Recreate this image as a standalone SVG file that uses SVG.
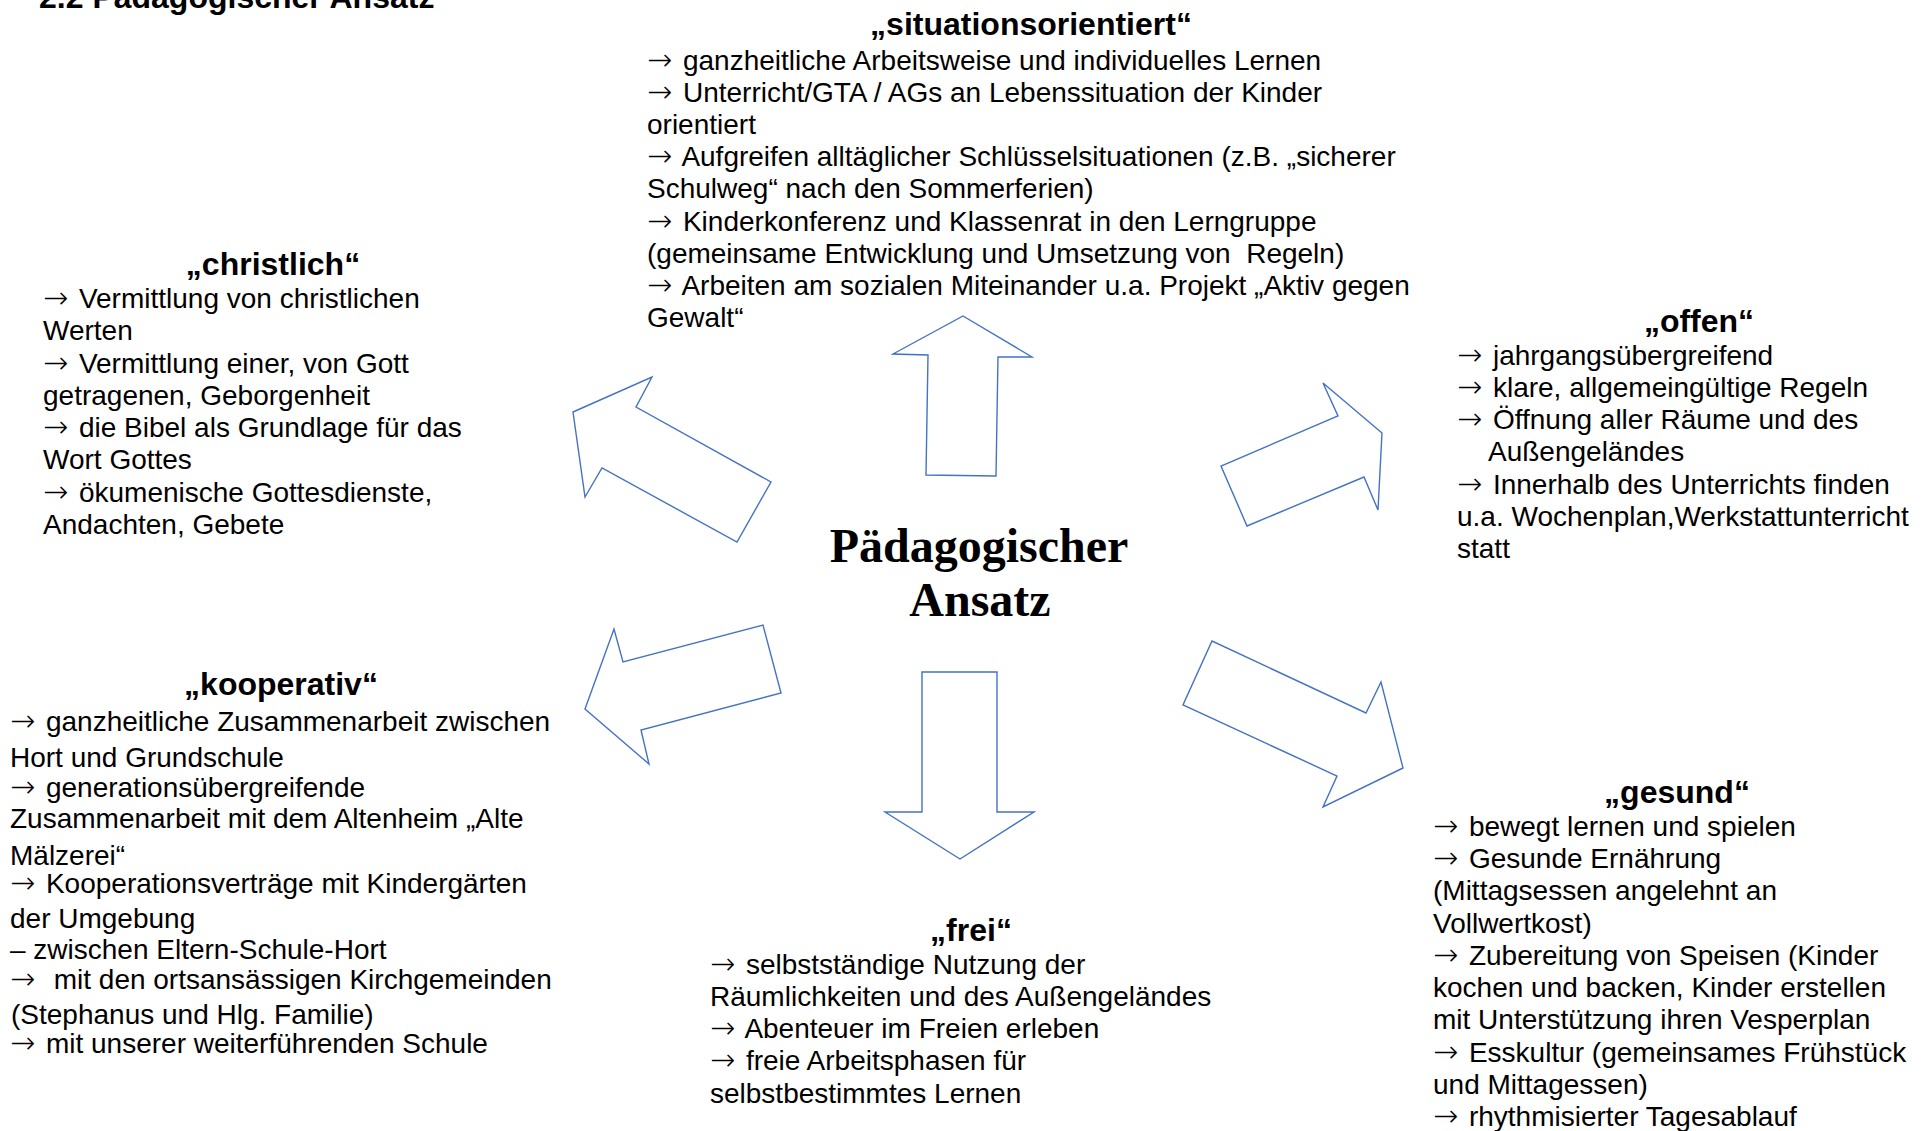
<svg xmlns="http://www.w3.org/2000/svg" width="1929" height="1131" viewBox="0 0 1929 1131">
<style>
.t{font-family:"Liberation Sans",Arial,sans-serif;font-size:28px;fill:#000;white-space:pre}
.ar{font-family:"DejaVu Sans ExtraLight","DejaVu Sans",sans-serif;font-weight:200;font-size:30px}
.h{font-family:"Liberation Sans",Arial,sans-serif;font-size:32px;font-weight:bold;fill:#000;text-anchor:middle}
.c{font-family:"Liberation Serif","Times New Roman",serif;font-size:48px;font-weight:bold;fill:#000;text-anchor:middle}
.a{fill:#fff;stroke:#4472c4;stroke-width:1.4;stroke-linejoin:miter}
</style>
<rect width="1929" height="1131" fill="#fff"/>
<text x="39" y="8" font-family="Liberation Sans, Arial, sans-serif" font-size="32" font-weight="bold">2.2 Pädagogischer Ansatz</text>

<g id="connectors">
<polygon class="a" points="573,412 652,377 636,407 771,482 737,542 602,468 585,497"/>
<polygon class="a" points="963,316 1032,357 998,357 996,476 926,475 928,355 893,354"/>
<polygon class="a" points="1382,433 1378,510 1364,477 1247,526 1221,466 1338,416 1323,383"/>
<polygon class="a" points="585,709 614,629 623,662 763,625 781,693 641,730 649,764"/>
<polygon class="a" points="922,672 997,672 997,812 1034,812 960,859 885,812 922,812"/>
<polygon class="a" points="1403,768 1323,807 1337,776 1183,705 1212,641 1366,713 1381,682"/>
</g>

<g id="center">
<text class="c" x="979" y="562">Pädagogischer</text>
<text class="c" x="980" y="616">Ansatz</text>
</g>

<g id="situationsorientiert">
<text class="h" x="1031" y="35">„situationsorientiert“</text>
<text class="t" x="647" y="70"><tspan class="ar">→</tspan><tspan dx="3"> ganzheitliche Arbeitsweise und individuelles Lernen</tspan></text>
<text class="t" x="647" y="102"><tspan class="ar">→</tspan><tspan dx="3"> Unterricht/GTA / AGs an Lebenssituation der Kinder</tspan></text>
<text class="t" x="647" y="134">orientiert</text>
<text class="t" x="647" y="166"><tspan class="ar">→</tspan><tspan dx="3"> Aufgreifen alltäglicher Schlüsselsituationen (z.B. „sicherer</tspan></text>
<text class="t" x="647" y="198">Schulweg“ nach den Sommerferien)</text>
<text class="t" x="647" y="231"><tspan class="ar">→</tspan><tspan dx="3"> Kinderkonferenz und Klassenrat in den Lerngruppe</tspan></text>
<text class="t" x="647" y="263">(gemeinsame Entwicklung und Umsetzung von  Regeln)</text>
<text class="t" x="647" y="295"><tspan class="ar">→</tspan><tspan dx="3"> Arbeiten am sozialen Miteinander u.a. Projekt „Aktiv gegen</tspan></text>
<text class="t" x="647" y="327">Gewalt“</text>
</g>

<g id="christlich">
<text class="h" x="273" y="275">„christlich“</text>
<text class="t" x="43" y="308"><tspan class="ar">→</tspan><tspan dx="3"> Vermittlung von christlichen</tspan></text>
<text class="t" x="43" y="340">Werten</text>
<text class="t" x="43" y="373"><tspan class="ar">→</tspan><tspan dx="3"> Vermittlung einer, von Gott</tspan></text>
<text class="t" x="43" y="405">getragenen, Geborgenheit</text>
<text class="t" x="43" y="437"><tspan class="ar">→</tspan><tspan dx="3"> die Bibel als Grundlage für das</tspan></text>
<text class="t" x="43" y="469">Wort Gottes</text>
<text class="t" x="43" y="502"><tspan class="ar">→</tspan><tspan dx="3"> ökumenische Gottesdienste,</tspan></text>
<text class="t" x="43" y="534">Andachten, Gebete</text>
</g>

<g id="offen">
<text class="h" x="1699" y="332">„offen“</text>
<text class="t" x="1457" y="365"><tspan class="ar">→</tspan><tspan dx="3"> jahrgangsübergreifend</tspan></text>
<text class="t" x="1457" y="397"><tspan class="ar">→</tspan><tspan dx="3"> klare, allgemeingültige Regeln</tspan></text>
<text class="t" x="1457" y="429"><tspan class="ar">→</tspan><tspan dx="3"> Öffnung aller Räume und des</tspan></text>
<text class="t" x="1488" y="461">Außengeländes</text>
<text class="t" x="1457" y="494"><tspan class="ar">→</tspan><tspan dx="3"> Innerhalb des Unterrichts finden</tspan></text>
<text class="t" x="1457" y="526">u.a. Wochenplan,Werkstattunterricht</text>
<text class="t" x="1457" y="558">statt</text>
</g>

<g id="kooperativ">
<text class="h" x="281" y="695">„kooperativ“</text>
<text class="t" x="10" y="731"><tspan class="ar">→</tspan><tspan dx="3"> ganzheitliche Zusammenarbeit zwischen</tspan></text>
<text class="t" x="10" y="767">Hort und Grundschule</text>
<text class="t" x="10" y="797"><tspan class="ar">→</tspan><tspan dx="3"> generationsübergreifende</tspan></text>
<text class="t" x="10" y="828">Zusammenarbeit mit dem Altenheim „Alte</text>
<text class="t" x="10" y="865">Mälzerei“</text>
<text class="t" x="10" y="893"><tspan class="ar">→</tspan><tspan dx="3"> Kooperationsverträge mit Kindergärten</tspan></text>
<text class="t" x="10" y="928">der Umgebung</text>
<text class="t" x="10" y="959">– zwischen Eltern-Schule-Hort</text>
<text class="t" x="10" y="989"><tspan class="ar">→</tspan><tspan dx="3">  mit den ortsansässigen Kirchgemeinden</tspan></text>
<text class="t" x="11" y="1024">(Stephanus und Hlg. Familie)</text>
<text class="t" x="10" y="1053"><tspan class="ar">→</tspan><tspan dx="3"> mit unserer weiterführenden Schule</tspan></text>
</g>

<g id="frei">
<text class="h" x="971" y="941">„frei“</text>
<text class="t" x="710" y="974"><tspan class="ar">→</tspan><tspan dx="3"> selbstständige Nutzung der</tspan></text>
<text class="t" x="710" y="1006">Räumlichkeiten und des Außengeländes</text>
<text class="t" x="710" y="1038"><tspan class="ar">→</tspan><tspan dx="3"> Abenteuer im Freien erleben</tspan></text>
<text class="t" x="710" y="1070"><tspan class="ar">→</tspan><tspan dx="3"> freie Arbeitsphasen für</tspan></text>
<text class="t" x="710" y="1103">selbstbestimmtes Lernen</text>
</g>

<g id="gesund">
<text class="h" x="1677" y="803">„gesund“</text>
<text class="t" x="1433" y="836"><tspan class="ar">→</tspan><tspan dx="3"> bewegt lernen und spielen</tspan></text>
<text class="t" x="1433" y="868"><tspan class="ar">→</tspan><tspan dx="3"> Gesunde Ernährung</tspan></text>
<text class="t" x="1433" y="900">(Mittagsessen angelehnt an</text>
<text class="t" x="1433" y="933">Vollwertkost)</text>
<text class="t" x="1433" y="965"><tspan class="ar">→</tspan><tspan dx="3"> Zubereitung von Speisen (Kinder</tspan></text>
<text class="t" x="1433" y="997">kochen und backen, Kinder erstellen</text>
<text class="t" x="1433" y="1029">mit Unterstützung ihren Vesperplan</text>
<text class="t" x="1433" y="1062"><tspan class="ar">→</tspan><tspan dx="3"> Esskultur (gemeinsames Frühstück</tspan></text>
<text class="t" x="1433" y="1094">und Mittagessen)</text>
<text class="t" x="1433" y="1126"><tspan class="ar">→</tspan><tspan dx="3"> rhythmisierter Tagesablauf</tspan></text>
</g>
</svg>
